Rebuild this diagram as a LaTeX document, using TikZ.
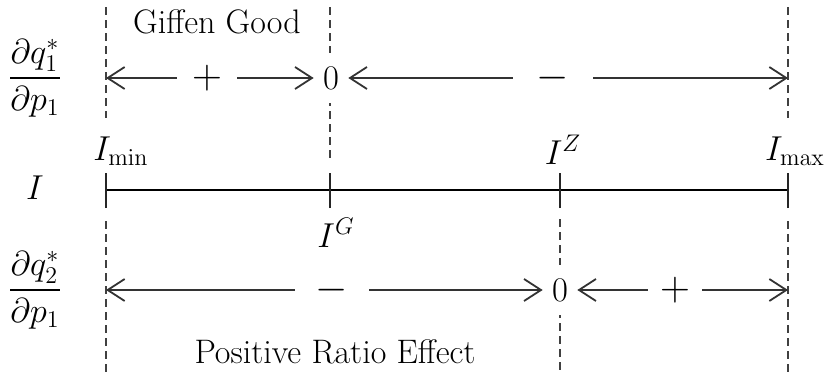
\documentclass[tikz,border=0pt]{standalone}
\usepackage{amsmath}
\usetikzlibrary{arrows.meta}
\begin{document}
\begin{tikzpicture}[x=0.5pt,y=-0.5pt,
  every node/.style={font=\fontsize{17}{20}\selectfont, text=black},
  arr/.style={draw=black!80, line width=0.9pt, -{Straight Barb[length=8.5pt,width=11pt,line width=0.9pt]}},
  guide/.style={draw=black!75, line width=0.9pt, dash pattern=on 4pt off 2.5pt},
  axis/.style={draw=black, line width=1pt},
  tick/.style={draw=black!85, line width=1pt},
  signnode/.style={inner sep=0pt, minimum height=14pt, font=\fontsize{20}{24}\selectfont},
  zeronode/.style={inner xsep=4.5pt, inner ysep=7pt, fill=white, font=\fontsize{17}{20}\selectfont}]
\useasboundingbox (0,0) rectangle (827,376);

% guide lines
\draw[guide] (106,7) -- (106,118);
\draw[guide] (106,221) -- (106,372);
\draw[guide] (330,7) -- (330,158);
\draw[guide] (560,219) -- (560,372);
\draw[guide] (788,7) -- (788,118);
\draw[guide] (788,221) -- (788,372);

% axis
\coordinate (x1) at (106,190);
\coordinate (x2) at (330,190);
\coordinate (x3) at (560,190);
\coordinate (x4) at (788,190);
\draw[axis] (x1) -- (x4);
\foreach \p in {x1,x2,x3,x4}
  \draw[tick] ([yshift=-9pt]\p) -- ([yshift=8.5pt]\p);

% labels
\node (gg) at (217,22) {Giffen Good};
\node (d1) at (35,78) {$\dfrac{\partial q_1^*}{\partial p_1}$};
\node (Il) at (35,188) {$I$};
\node (d2) at (35,290) {$\dfrac{\partial q_2^*}{\partial p_1}$};
\node (imin) at (121,151) {$I_{\mathrm{min}}$};
\node (ig) at (336,233) {$I^{G}$};
\node (iz) at (563,150) {$I^{Z}$};
\node (imax) at (795,151) {$I_{\mathrm{max}}$};
\node (pre) at (335,352) {Positive Ratio Effect};

% top row
\coordinate (L1) at (106,78);
\coordinate (R1) at (788,78);
\node[zeronode] (z1) at (331,78) {$0$};
\node[signnode, minimum width=30pt] (p1) at (207,78) {$+$};
\node[signnode, minimum width=40pt] (m1) at (553,78) {$-$};
\draw[arr] (p1) -- (L1);
\draw[arr] (p1) -- (z1);
\draw[arr] (m1) -- (z1);
\draw[arr] (m1) -- (R1);

% bottom row
\coordinate (L2) at (106,290);
\coordinate (R2) at (788,290);
\node[zeronode] (z2) at (560,290) {$0$};
\node[signnode, minimum width=37pt] (m2) at (332,290) {$-$};
\node[signnode, minimum width=27pt] (p2) at (675,290) {$+$};
\draw[arr] (m2) -- (L2);
\draw[arr] (m2) -- (z2);
\draw[arr] (p2) -- (z2);
\draw[arr] (p2) -- (R2);
\end{tikzpicture}
\end{document}
